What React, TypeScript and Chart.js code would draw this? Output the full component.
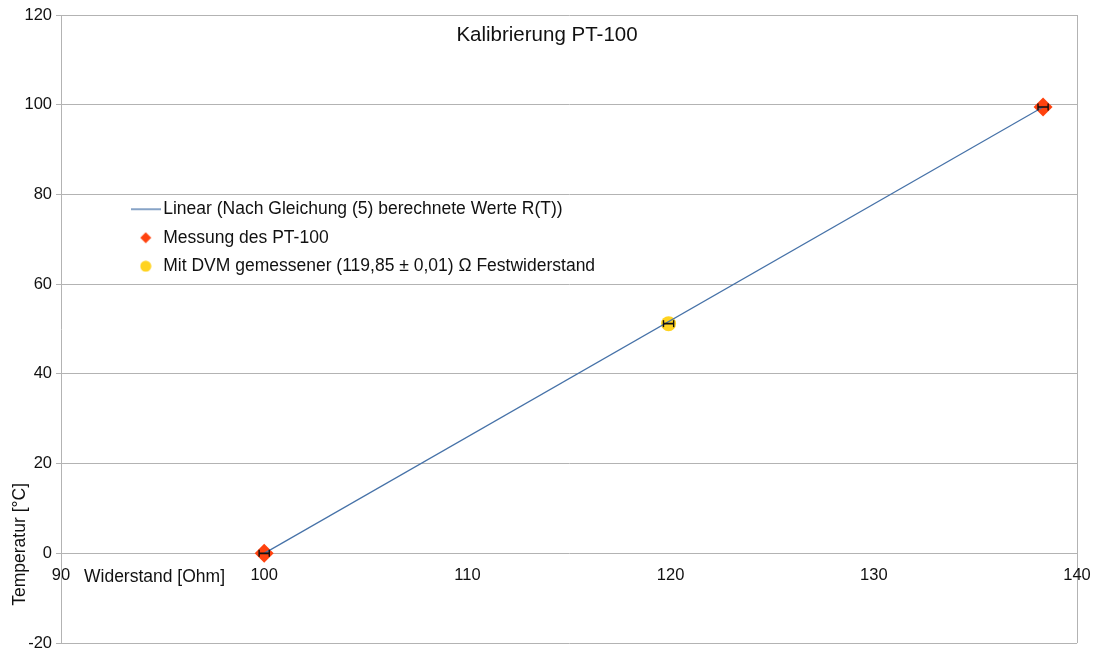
import React, { useEffect, useRef } from 'react';
import { Chart, registerables } from 'chart.js';

Chart.register(...registerables);

const FONT = '"Liberation Sans", Arial, Helvetica, sans-serif';
const GRID = '#b3b3b3';
const LINE_COLOR = '#4672a8';
const RED = '#ff420e';
const YELLOW = '#ffd320';

// ---- data ----
const chartTitle = 'Kalibrierung PT-100';
const xAxisTitle = 'Widerstand [Ohm]';
const yAxisTitle = 'Temperatur [°C]';

const seriesNames = [
  'Linear (Nach Gleichung (5) berechnete Werte R(T))',
  'Messung des PT-100',
  'Mit DVM gemessener (119,85 ± 0,01) Ω Festwiderstand',
];

const linearX = [100, 138.33];
const linearY = [0, 99.5];

const messungX = [100, 138.33];
const messungY = [0, 99.5];

const dvmX = [119.9];
const dvmY = [51.2];

// horizontal error bar half-widths (Ohm) for the three measured points
const errPointsX = [100, 119.9, 138.33];
const errPointsY = [0, 51.2, 99.5];
const errHalf = [0.25, 0.25, 0.25];

const xMin = 90, xMax = 140, xStep = 10;
const yMin = -20, yMax = 120, yStep = 20;

function makeLineIcon(): HTMLCanvasElement {
  const c = document.createElement('canvas');
  c.width = 30; c.height = 4;
  const g = c.getContext('2d')!;
  g.strokeStyle = LINE_COLOR; g.lineWidth = 1.3;
  g.beginPath(); g.moveTo(0, 2); g.lineTo(30, 2); g.stroke();
  return c;
}
function makeDiamondIcon(): HTMLCanvasElement {
  const c = document.createElement('canvas');
  c.width = 12; c.height = 12;
  const g = c.getContext('2d')!;
  g.fillStyle = RED;
  g.beginPath(); g.moveTo(6, 0.5); g.lineTo(11.5, 6); g.lineTo(6, 11.5); g.lineTo(0.5, 6); g.closePath(); g.fill();
  return c;
}
function makeCircleIcon(): HTMLCanvasElement {
  const c = document.createElement('canvas');
  c.width = 12; c.height = 12;
  const g = c.getContext('2d')!;
  g.fillStyle = YELLOW;
  g.beginPath(); g.arc(6, 6, 5.5, 0, Math.PI * 2); g.fill();
  return c;
}

const textPlugin = {
  id: 'textPlugin',
  afterDraw(chart: any) {
    const ctx = chart.ctx as CanvasRenderingContext2D;
    const area = chart.chartArea;
    const ys = chart.scales.y;
    const y0 = ys.getPixelForValue(0);
    ctx.save();
    ctx.fillStyle = '#111';
    ctx.textBaseline = 'alphabetic';
    ctx.font = `20.5px ${FONT}`;
    ctx.textAlign = 'center';
    ctx.fillText(chartTitle, (area.left + area.right) / 2 - 22, area.top + 26);
    ctx.font = `17.5px ${FONT}`;
    ctx.textAlign = 'left';
    ctx.fillText(xAxisTitle, area.left + 23, y0 + 29);
    ctx.translate(area.left - 36, y0 - 9);
    ctx.rotate(-Math.PI / 2);
    ctx.textAlign = 'center';
    ctx.fillText(yAxisTitle, 0, 0);
    ctx.restore();
  },
};

const legendPlacer = {
  id: 'legendPlacer',
  afterLayout(chart: any) {
    const lg = chart.legend;
    if (!lg) return;
    const area = chart.chartArea;
    const w = lg.width;
    lg.left = area.left + 65;
    lg.top = chart.scales.y.getPixelForValue(80) - 5;
    lg.right = lg.left + w;
    lg.bottom = area.bottom + 400;
  },
};

export default function App() {
  const ref = useRef<HTMLCanvasElement | null>(null);
  useEffect(() => {
    if (!ref.current) return;
    const icons = [makeLineIcon(), makeDiamondIcon(), makeCircleIcon()];
    const errData: any[] = [];
    errPointsX.forEach((x, i) => {
      errData.push({ x: x - errHalf[i], y: errPointsY[i] });
      errData.push({ x: x + errHalf[i], y: errPointsY[i] });
      errData.push({ x: x, y: null });
    });
    const chart = new Chart(ref.current, {
      type: 'scatter',
      data: {
        datasets: [
          {
            label: seriesNames[0],
            data: linearX.map((x, i) => ({ x, y: linearY[i] })),
            showLine: true,
            borderColor: LINE_COLOR,
            borderWidth: 1.2,
            pointRadius: 0,
            order: 1,
          } as any,
          {
            label: seriesNames[1],
            data: messungX.map((x, i) => ({ x, y: messungY[i] })),
            pointStyle: 'rectRot',
            pointRadius: 9.5,
            backgroundColor: RED,
            borderColor: RED,
            borderWidth: 0,
            order: 3,
          },
          {
            label: seriesNames[2],
            data: dvmX.map((x, i) => ({ x, y: dvmY[i] })),
            pointStyle: 'circle',
            pointRadius: 7.5,
            backgroundColor: YELLOW,
            borderColor: YELLOW,
            borderWidth: 0,
            order: 2,
          },
          {
            label: 'errors',
            data: errData,
            showLine: true,
            spanGaps: false,
            borderColor: '#111',
            borderWidth: 1.6,
            pointStyle: 'line',
            rotation: 90,
            pointRadius: 3.5,
            pointBorderColor: '#111',
            pointBorderWidth: 1.4,
            order: 0,
          } as any,
        ],
      },
      options: {
        animation: false,
        responsive: true,
        maintainAspectRatio: false,
        layout: { padding: { left: 0, top: 15, right: 23, bottom: 13 } },
        font: { family: FONT, size: 16 } as any,
        plugins: {
          title: { display: false },
          tooltip: { enabled: false },
          legend: {
            display: true,
            position: 'chartArea',
            align: 'start',
            labels: {
              usePointStyle: true,
              padding: 11,
              color: '#111',
              font: { family: FONT, size: 17.5 },
              generateLabels: () =>
                seriesNames.map((t, i) => ({
                  text: t,
                  pointStyle: icons[i] as any,
                  fillStyle: 'transparent',
                  strokeStyle: 'transparent',
                  lineWidth: 0,
                  hidden: false,
                  datasetIndex: i,
                  fontColor: '#111',
                })),
            },
          } as any,
        },
        scales: {
          x: {
            type: 'linear',
            position: { y: 0 } as any,
            min: xMin,
            max: xMax,
            ticks: { stepSize: xStep, color: '#111', padding: 12, font: { family: FONT, size: 16.5 } },
            grid: {
              drawTicks: false,
              color: (c: any) => (c.tick && c.tick.value === xMax ? GRID : 'rgba(0,0,0,0)'),
            },
            border: { display: false },
            afterFit: (s: any) => { s.paddingLeft = 0; s.paddingRight = 0; },
          } as any,
          y: {
            type: 'linear',
            position: 'left',
            min: yMin,
            max: yMax,
            ticks: { stepSize: yStep, color: '#111', padding: 4, font: { family: FONT, size: 16.5 } },
            grid: { color: GRID, tickLength: 5 },
            border: { display: true, color: GRID },
            afterFit: (s: any) => { s.width = 61; },
          } as any,
        },
      },
      plugins: [legendPlacer, textPlugin],
    });
    return () => chart.destroy();
  }, []);
  return (
    <div style={{ position: 'fixed', left: 0, top: 0, width: 1100, height: 657, background: '#fff' }}>
      <canvas ref={ref} />
    </div>
  );
}
